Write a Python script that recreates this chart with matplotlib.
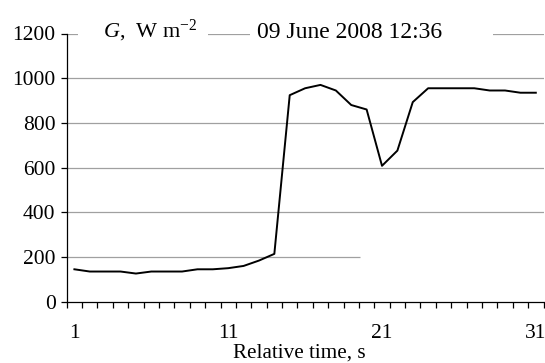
import matplotlib
matplotlib.use("Agg")
import matplotlib.pyplot as plt
from matplotlib.patches import Rectangle

time_s = list(range(1, 32))
irradiance = [145, 135, 135, 135, 126, 135, 135, 135, 145, 145, 150, 160, 184, 214,
              924, 955, 970, 945, 880, 860, 608, 676, 893, 955, 955, 955, 955, 945,
              945, 935, 935]
y_ticks = [0, 200, 400, 600, 800, 1000, 1200]
x_labels = {1: "1", 11: "11", 21: "21", 31: "31"}
title_left = r"$G$,  W m$^{-2}$"
title_right = "09 June 2008 12:36"
x_title = "Relative time, s"

plt.rcParams['font.family'] = ['Liberation Serif', 'DejaVu Serif']
plt.rcParams['mathtext.fontset'] = 'custom'
plt.rcParams['mathtext.rm'] = 'Liberation Serif'
plt.rcParams['mathtext.it'] = 'Liberation Serif:italic'

W, H = 545, 363
fs = 15.5
fig = plt.figure(figsize=(5.45, 3.63), dpi=100)
ax = fig.add_axes([66.7/W, 1 - 301.7/H, (543.5-66.7)/W, (301.7-33.5)/H])

ax.set_xlim(0.5, 31.5)
ax.set_ylim(0, 1200)

grid_col = '#a0a0a0'
for v in y_ticks[2:]:
    ax.hlines(v, 0.5, 31.5, color=grid_col, lw=0.9, zorder=1)
ax.hlines(200, 0.5, 19.6, color=grid_col, lw=0.9, zorder=1)

ax.plot(time_s, irradiance, color='black', lw=1.4, zorder=3, clip_on=False)

for s in ['top', 'right']:
    ax.spines[s].set_visible(False)
ax.spines['left'].set_linewidth(0.9)
ax.spines['bottom'].set_linewidth(0.9)

ax.set_yticks(y_ticks)
ax.set_yticklabels([str(v) for v in y_ticks], fontsize=fs)
ax.tick_params(axis='y', direction='out', length=4, width=0.9, pad=4)

ax.set_xticks([i + 0.5 for i in range(0, 32)])
ax.set_xticklabels([])
ax.tick_params(axis='x', direction='out', length=4, width=0.9)
tick_y = 1 - 337.5/H
for k, lab in x_labels.items():
    xf = fig.transFigure.inverted().transform(ax.transData.transform((k, 0)))[0]
    fig.text(xf, tick_y, lab, ha='center', va='baseline', fontsize=fs)
fig.text(299/W, 1 - 357.5/H, x_title, ha='center', va='baseline', fontsize=15.2)

# white boxes interrupting the top gridline (title text boxes)
fig.patches.append(Rectangle((78/W, 1 - 52/H), 130/W, 38/H, transform=fig.transFigure,
                             facecolor='white', edgecolor='none', zorder=5))
fig.patches.append(Rectangle((250/W, 1 - 52/H), 243/W, 38/H, transform=fig.transFigure,
                             facecolor='white', edgecolor='none', zorder=5))
fig.text(103/W, 1 - 37.5/H, title_left, ha='left', va='baseline', fontsize=16, zorder=6)
fig.text(257/W, 1 - 38.5/H, title_right, ha='left', va='baseline', fontsize=17, zorder=6)

fig.savefig("out.png", dpi=100)
